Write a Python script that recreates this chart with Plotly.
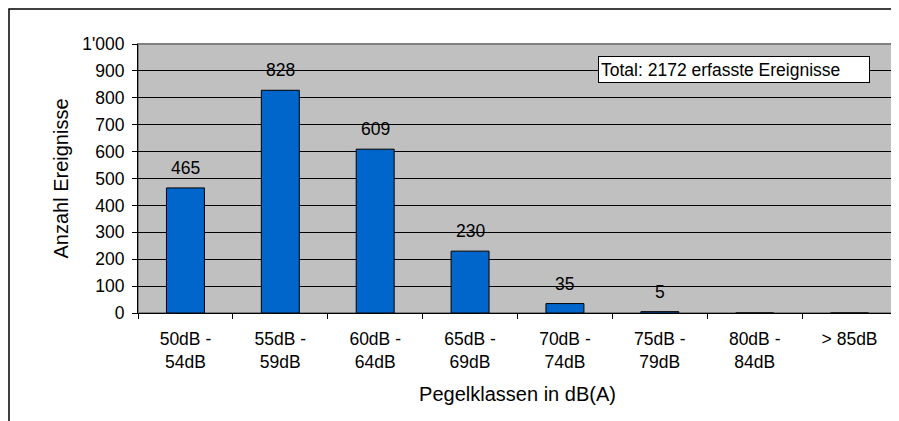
import plotly.graph_objects as go

categories = ["50dB -<br>54dB", "55dB -<br>59dB", "60dB -<br>64dB", "65dB -<br>69dB",
              "70dB -<br>74dB", "75dB -<br>79dB", "80dB -<br>84dB", "> 85dB"]
counts = [465, 828, 609, 230, 35, 5, 0, 0]
labels = ["465", "828", "609", "230", "35", "5", "", ""]
y_ticks = [0, 100, 200, 300, 400, 500, 600, 700, 800, 900, 1000]
y_ticktext = ["0", "100", "200", "300", "400", "500", "600", "700", "800", "900", "1'000"]
total_text = "Total: 2172 erfasste Ereignisse"

FONT = "Liberation Sans, Arial, sans-serif"
FS = 17.5

# page body has an 8px margin; compensate so the picture lines up
W, H = 891, 413
ML, MR, MT, MB = 130, 2, 36, 108
PW, PH = W - ML - MR, H - MT - MB

fig = go.Figure()
fig.add_trace(go.Bar(
    x=categories, y=counts,
    marker=dict(color="#0066CC", line=dict(color="black", width=1)),
    width=0.4,
))
for c, v, t in zip(categories, counts, labels):
    if t:
        fig.add_annotation(x=c, y=v, text=t, showarrow=False, yanchor="bottom",
                           yshift=8, font=dict(size=FS, color="black"))

fig.update_layout(
    width=W, height=H,
    margin=dict(l=ML, r=MR, t=MT, b=MB),
    paper_bgcolor="white", plot_bgcolor="#C0C0C0",
    font=dict(family=FONT, size=FS, color="black"),
    showlegend=False,
)
fig.update_xaxes(
    tickson="boundaries", ticks="outside", ticklen=5, tickcolor="black",
    showline=True, linecolor="black", linewidth=1,
    tickfont=dict(size=FS), ticklabelstandoff=10,
    title=dict(text="Pegelklassen in dB(A)", font=dict(size=20), standoff=16),
    automargin=False,
)
fig.update_yaxes(
    range=[0, 1000], tickvals=y_ticks, ticktext=y_ticktext,
    ticks="outside", ticklen=5, tickcolor="black",
    showline=True, linecolor="black", linewidth=1,
    showgrid=True, gridcolor="black", gridwidth=1,
    tickfont=dict(size=FS), ticklabelstandoff=4,
    title=dict(text="Anzahl Ereignisse", font=dict(size=20), standoff=8),
    automargin=False, zeroline=False,
)

# gray plot-area border (top/right)
fig.add_shape(type="rect", xref="paper", yref="paper", x0=0, y0=0, x1=1, y1=1,
              line=dict(color="#808080", width=2), layer="below")
# outer chart frame
fig.add_shape(type="rect", xref="paper", yref="paper",
              x0=(1 - ML) / PW, y0=-0.6, x1=1.1, y1=1 + (MT - 1) / PH,
              line=dict(color="black", width=1.5), fillcolor="rgba(0,0,0,0)")

fig.add_annotation(
    text=total_text, xref="paper", yref="paper",
    x=(598 - 138) / PW, y=1 - (70 - 44) / PH, xanchor="left", yanchor="middle",
    showarrow=False, bgcolor="white", bordercolor="black", borderwidth=1,
    borderpad=2, width=266, height=21, align="left",
    font=dict(size=FS),
)

fig.write_html("out.html")
